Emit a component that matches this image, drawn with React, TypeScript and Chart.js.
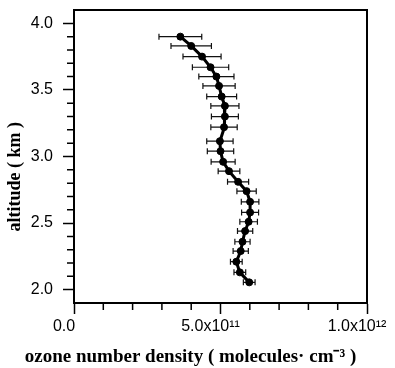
import { useEffect, useRef } from 'react';
import { Chart, registerables } from 'chart.js';

Chart.register(...registerables);

// Altitude (km) of each profile point, top to bottom
const altitudeKm = [3.90, 3.83, 3.75, 3.67, 3.60, 3.53, 3.45, 3.38, 3.30, 3.22, 3.115, 3.04, 2.96, 2.89, 2.81, 2.74, 2.66, 2.58, 2.51, 2.44, 2.36, 2.29, 2.21, 2.13, 2.055];
// Ozone number density, units of 1e11 molecules cm^-3
const densityE11 = [3.63, 4.00, 4.37, 4.66, 4.86, 4.95, 5.04, 5.15, 5.15, 5.12, 4.98, 5.00, 5.09, 5.29, 5.60, 5.89, 6.01, 6.01, 5.96, 5.84, 5.75, 5.69, 5.54, 5.66, 5.98];
// Half-width of horizontal error bars, units of 1e11
const errorE11 = [0.73, 0.69, 0.65, 0.62, 0.60, 0.55, 0.51, 0.48, 0.46, 0.45, 0.45, 0.45, 0.41, 0.37, 0.36, 0.33, 0.30, 0.29, 0.30, 0.26, 0.26, 0.26, 0.20, 0.20, 0.20];

const xMajorTicks = [0, 5e11, 1e12];
const xTickLabels = ['0.0', '5.0x10\u00B9\u00B9', '1.0x10\u00B9\u00B2'];
const xMinorTicks = [1e11, 2e11, 3e11, 4e11, 6e11, 7e11, 8e11, 9e11];
const yMajorTicks = [2.0, 2.5, 3.0, 3.5, 4.0];
const yTickLabels = ['2.0', '2.5', '3.0', '3.5', '4.0'];
const yMinorTicks = [2.1, 2.2, 2.3, 2.4, 2.6, 2.7, 2.8, 2.9, 3.1, 3.2, 3.3, 3.4, 3.6, 3.7, 3.8, 3.9];

const NB = '\u00A0';
const xTitle = 'ozone number density ( molecules\u00B7 cm\u207B\u00B3 )';
const yTitle = 'altitude ( km )' + NB.repeat(9);

const extras = {
  id: 'extras',
  beforeDatasetsDraw(chart: any) {
    const { ctx, scales } = chart;
    const x = scales.x;
    const y = scales.y;
    ctx.save();
    ctx.strokeStyle = '#111';
    ctx.lineWidth = 1.2;
    altitudeKm.forEach((alt, i) => {
      const yc = y.getPixelForValue(alt);
      const xl = x.getPixelForValue((densityE11[i] - errorE11[i]) * 1e11);
      const xr = x.getPixelForValue((densityE11[i] + errorE11[i]) * 1e11);
      ctx.beginPath();
      ctx.moveTo(xl, yc);
      ctx.lineTo(xr, yc);
      ctx.moveTo(xl, yc - 3);
      ctx.lineTo(xl, yc + 3);
      ctx.moveTo(xr, yc - 3);
      ctx.lineTo(xr, yc + 3);
      ctx.stroke();
    });
    ctx.restore();
  },
  afterDraw(chart: any) {
    const { ctx, chartArea: a, scales } = chart;
    const x = scales.x;
    const y = scales.y;
    ctx.save();
    ctx.strokeStyle = '#000';
    ctx.lineWidth = 2;
    ctx.strokeRect(a.left, a.top, a.right - a.left, a.bottom - a.top);
    ctx.lineWidth = 1.5;
    ctx.beginPath();
    yMinorTicks.forEach((v) => {
      const p = y.getPixelForValue(v);
      ctx.moveTo(a.left - 7, p);
      ctx.lineTo(a.left, p);
    });
    xMinorTicks.forEach((v) => {
      const p = x.getPixelForValue(v);
      ctx.moveTo(p, a.bottom);
      ctx.lineTo(p, a.bottom + 7);
    });
    ctx.stroke();
    // x-axis title
    ctx.fillStyle = '#000';
    ctx.font = 'bold 19px "Liberation Serif"';
    ctx.textAlign = 'center';
    ctx.textBaseline = 'alphabetic';
    ctx.fillText(xTitle, (a.left + a.right) / 2 - 30, chart.height - 6);
    ctx.restore();
  },
};

export default function App() {
  const ref = useRef<HTMLCanvasElement | null>(null);
  useEffect(() => {
    if (!ref.current) return;
    const chart = new Chart(ref.current, {
      type: 'scatter',
      data: {
        datasets: [
          {
            data: altitudeKm.map((a, i) => ({ x: densityE11[i] * 1e11, y: a })),
            showLine: true,
            borderColor: '#000',
            backgroundColor: '#000',
            borderWidth: 3,
            pointRadius: 3.5,
            pointBorderWidth: 1,
            pointBackgroundColor: '#000',
            pointBorderColor: '#000',
          },
        ],
      },
      options: {
        animation: false,
        responsive: true,
        maintainAspectRatio: false,
        layout: { padding: { top: 10, right: 28, left: 0, bottom: 0 }, autoPadding: false },
        plugins: { legend: { display: false }, tooltip: { enabled: false } },
        scales: {
          x: {
            type: 'linear',
            min: 0,
            max: 1e12,
            afterBuildTicks: (s: any) => {
              s.ticks = xMajorTicks.map((v) => ({ value: v }));
            },
            afterFit: (s: any) => {
              s.height = 65;
              s.paddingLeft = 0;
              s.paddingRight = 0;
            },
            ticks: {
              autoSkip: false,
              maxRotation: 0,
              padding: 3,
              labelOffset: -10,
              color: '#000',
              font: { family: 'Liberation Sans', size: 16 },
              callback: (_v: any, i: number) => xTickLabels[i],
            },
            grid: { drawOnChartArea: false, drawTicks: true, tickLength: 11, tickWidth: 1.5, tickColor: '#000' },
            border: { display: true, color: '#000', width: 2 },
            title: { display: false },
          },
          y: {
            type: 'linear',
            min: 1.9,
            max: 4.1,
            afterBuildTicks: (s: any) => {
              s.ticks = yMajorTicks.map((v) => ({ value: v }));
            },
            afterFit: (s: any) => {
              s.width = 74;
              s.paddingTop = 0;
              s.paddingBottom = 0;
            },
            ticks: {
              autoSkip: false,
              padding: 10,
              color: '#000',
              font: { family: 'Liberation Sans', size: 16 },
              callback: (_v: any, i: number) => yTickLabels[i],
            },
            grid: { drawOnChartArea: false, drawTicks: true, tickLength: 11, tickWidth: 1.5, tickColor: '#000' },
            border: { display: true, color: '#000', width: 2 },
            title: {
              display: true,
              text: yTitle,
              color: '#000',
              font: { family: 'Liberation Serif', size: 18, weight: 'bold' },
              padding: { top: 5, bottom: 0 },
            },
          },
        },
      },
      plugins: [extras],
    });
    return () => chart.destroy();
  }, []);
  return (
    <div style={{ position: 'fixed', left: 0, top: 0, width: 395, height: 368, background: '#fff' }}>
      <canvas ref={ref} />
    </div>
  );
}
